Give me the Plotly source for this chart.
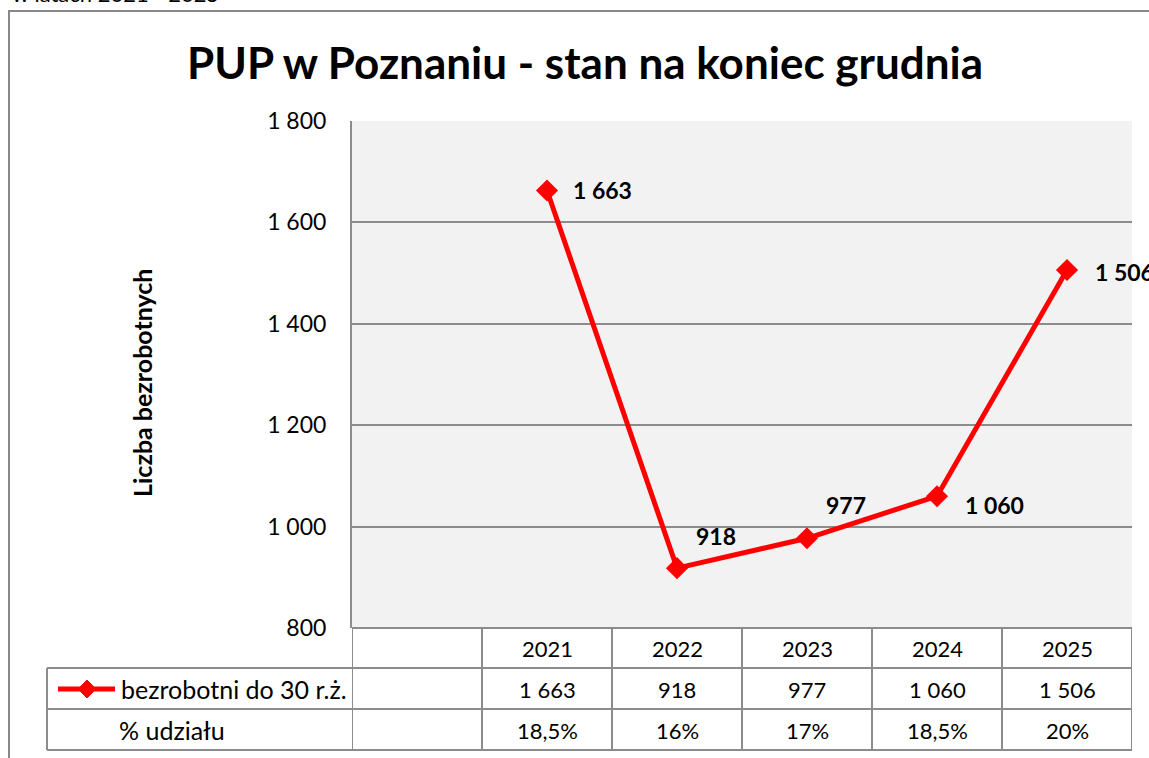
import plotly.graph_objects as go

# data
years = ["2021", "2022", "2023", "2024", "2025"]
unemployed = [1663, 918, 977, 1060, 1506]
share = ["18,5%", "16%", "17%", "18,5%", "20%"]
series_name = "bezrobotni do 30 r.ż."
share_name = "% udziału"

# label offsets (px) - labels were moved by hand in the original
label_dx = [24, 17, 17, 26, 26]
label_dy = [0, 32, 33, -9, -2]

FONT = "Lato, 'Open Sans', sans-serif"
RED = "#ff0000"
GRID = "#8c8c8c"

W_PX, H_PX = 1149, 758
L, R, T, B = 352, 1132, 121, 628
PW, PH = R - L, B - T


def px_x(p):
    return (p - L) / PW


def px_y(p):
    return (B - p) / PH


def fmt(v):
    return f"{v:,}".replace(",", " ")


cats = [" "] + years

fig = go.Figure()
fig.add_trace(go.Scatter(
    x=years, y=unemployed, mode="lines+markers",
    line=dict(color=RED, width=5),
    marker=dict(symbol="diamond", size=17, color=RED),
    showlegend=False, hoverinfo="skip",
))

annotations = []
for yr, v, dx, dy in zip(years, unemployed, label_dx, label_dy):
    annotations.append(dict(
        x=cats.index(yr), y=v, xref="x", yref="y", text=f"<b>{fmt(v)}</b>",
        showarrow=False, xanchor="left", yanchor="middle",
        xshift=dx, yshift=dy, font=dict(family=FONT, size=23, color="black"),
    ))

# title, axis title, clipped subtitle at the top
annotations.append(dict(
    x=px_x(585), y=px_y(62), xref="paper", yref="paper", xanchor="center", yanchor="middle",
    text="<b>PUP w Poznaniu - stan na koniec grudnia</b>", showarrow=False,
    font=dict(family=FONT, size=44, color="black"),
))
annotations.append(dict(
    x=px_x(142), y=px_y(383), xref="paper", yref="paper", xanchor="center", yanchor="middle",
    text="<b>Liczba bezrobotnych</b>", textangle=-90, showarrow=False,
    font=dict(family=FONT, size=25, color="black"),
))
annotations.append(dict(
    x=px_x(10), y=px_y(9), xref="paper", yref="paper", xanchor="left", yanchor="bottom",
    text="w latach 2021 - 2025", showarrow=False,
    font=dict(family=FONT, size=22, color="black"),
))

# data table under the plot
rows_y = [648, 689, 730]
nfont = dict(family=FONT, size=22, color="black")
lfont = dict(family=FONT, size=25, color="black")
for i, yr in enumerate(years):
    xi = cats.index(yr)
    for row, txt in zip(rows_y, [yr, fmt(unemployed[i]), share[i]]):
        annotations.append(dict(x=xi, y=px_y(row), xref="x", yref="paper",
                                xanchor="center", yanchor="middle",
                                text=txt, showarrow=False, font=nfont))
annotations.append(dict(x=px_x(119), y=px_y(rows_y[1]), xref="paper", yref="paper",
                        xanchor="left", yanchor="middle",
                        text=series_name, showarrow=False, font=lfont))
annotations.append(dict(x=px_x(117), y=px_y(rows_y[2]), xref="paper", yref="paper",
                        xanchor="left", yanchor="middle",
                        text=share_name, showarrow=False, font=lfont))

shapes = []
line_style = dict(color=GRID, width=2)
# horizontal table lines
shapes.append(dict(type="line", xref="paper", yref="paper", x0=0, x1=1,
                   y0=px_y(628), y1=px_y(628), line=line_style))
for py in [668, 709, 750]:
    shapes.append(dict(type="line", xref="paper", yref="paper", x0=px_x(47), x1=1,
                       y0=px_y(py), y1=px_y(py), line=line_style))
# vertical table lines
for k in range(len(cats) + 1):
    xk = k - 0.5
    shapes.append(dict(type="line", xref="x", yref="paper", x0=xk, x1=xk,
                       y0=px_y(628), y1=px_y(750), line=line_style))
shapes.append(dict(type="line", xref="paper", yref="paper", x0=px_x(47), x1=px_x(47),
                   y0=px_y(668), y1=px_y(750), line=line_style))
# legend key in the table
shapes.append(dict(type="line", xref="paper", yref="paper", x0=px_x(58), x1=px_x(115),
                   y0=px_y(689), y1=px_y(689), line=dict(color=RED, width=5)))
cx, cy, d = 87, 689, 9
shapes.append(dict(
    type="path", xref="paper", yref="paper", fillcolor=RED, line=dict(color=RED, width=1),
    path=f"M {px_x(cx - d)} {px_y(cy)} L {px_x(cx)} {px_y(cy - d)} "
         f"L {px_x(cx + d)} {px_y(cy)} L {px_x(cx)} {px_y(cy + d)} Z",
))
# outer chart frame (runs off the picture on the right and bottom)
shapes.append(dict(type="rect", xref="paper", yref="paper",
                   x0=px_x(9), x1=px_x(1160), y0=px_y(11), y1=px_y(770),
                   line=dict(color="#888888", width=2), layer="below"))

fig.update_layout(
    width=W_PX, height=H_PX,
    margin=dict(l=L, r=W_PX - R, t=T, b=H_PX - B),
    paper_bgcolor="white", plot_bgcolor="#f2f2f2",
    separators=", ",
    font=dict(family=FONT, color="black"),
    xaxis=dict(type="category", categoryorder="array", categoryarray=cats,
               range=[-0.5, len(cats) - 0.5], showticklabels=False, showgrid=False,
               zeroline=False, showline=False, fixedrange=True),
    yaxis=dict(range=[800, 1800], dtick=200, tickformat=",d", showgrid=True,
               gridcolor=GRID, gridwidth=2, showline=True, linecolor=GRID, linewidth=2,
               zeroline=False, ticks="", ticklabelstandoff=19,
               tickfont=dict(family=FONT, size=23, color="black")),
    annotations=annotations, shapes=shapes, showlegend=False,
)

fig.write_html("out.html", config={"displayModeBar": False},
               post_script="document.body.style.margin = '0';")
